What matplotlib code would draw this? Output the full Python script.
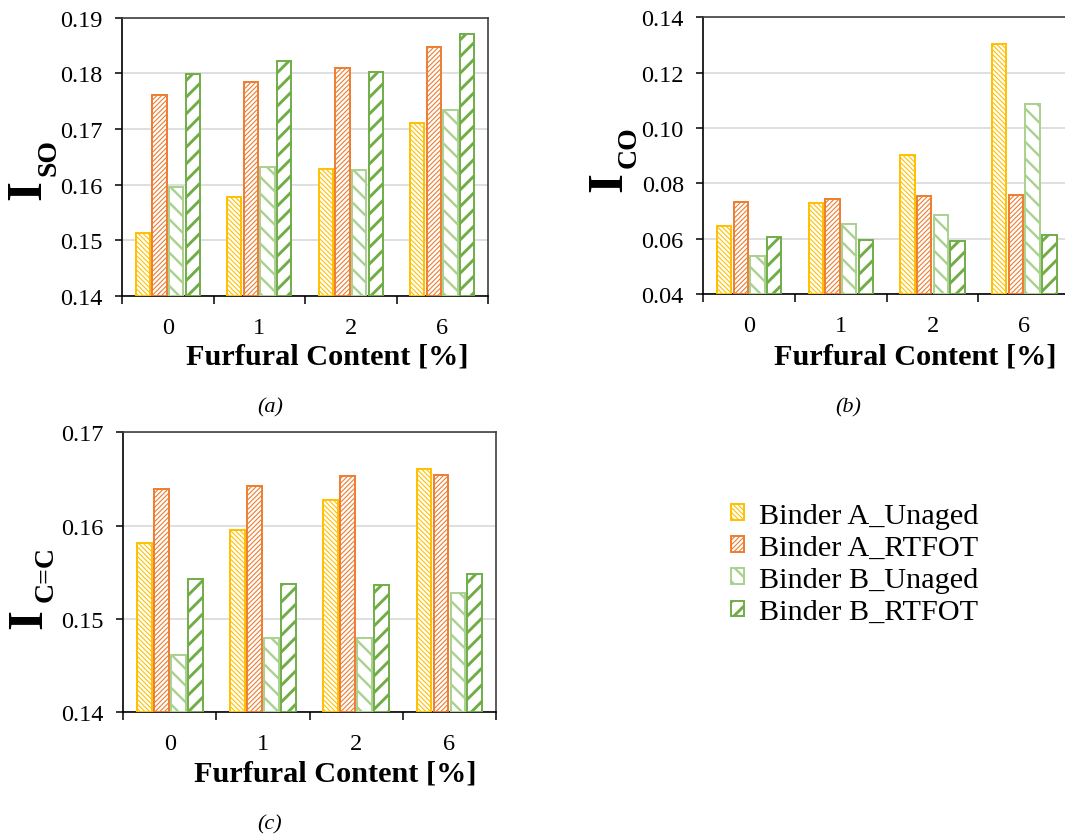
import matplotlib
matplotlib.use("Agg")
import matplotlib as mpl
import matplotlib.pyplot as plt
import numpy as np

plt.rcParams['font.family'] = ['Liberation Serif', 'DejaVu Serif']

categories = ['0', '1', '2', '6']
series_names = ['Binder A_Unaged', 'Binder A_RTFOT', 'Binder B_Unaged', 'Binder B_RTFOT']

iso_a_unaged = [0.1514, 0.1577, 0.1628, 0.1711]
iso_a_rtfot = [0.1762, 0.1784, 0.1809, 0.1847]
iso_b_unaged = [0.1595, 0.1632, 0.1626, 0.1735]
iso_b_rtfot = [0.1799, 0.1822, 0.1803, 0.1871]

ico_a_unaged = [0.0644, 0.0729, 0.0902, 0.1303]
ico_a_rtfot = [0.0731, 0.0743, 0.0755, 0.0758]
ico_b_unaged = [0.0537, 0.0654, 0.0685, 0.1088]
ico_b_rtfot = [0.0607, 0.0596, 0.0591, 0.0615]

icc_a_unaged = [0.1581, 0.1595, 0.1628, 0.1661]
icc_a_rtfot = [0.1639, 0.1643, 0.1653, 0.1654]
icc_b_unaged = [0.1461, 0.1480, 0.1480, 0.1528]
icc_b_rtfot = [0.1543, 0.1538, 0.1536, 0.1548]

colors = ['#FFC000', '#ED7D31', '#A9D18E', '#70AD47']
hatches = ['\\' * 7, '/' * 7, '\\\\', '//']
hatch_lws = [0.8, 0.8, 1.7, 2.1]

W, H = 1065, 837
fig = plt.figure(figsize=(W / 100, H / 100), dpi=100)


def px_axes(l, t, r, b):
    return fig.add_axes([l / W, 1 - b / H, (r - l) / W, (b - t) / H])


def with_hatch_lw(artist, lw):
    if hasattr(artist, 'set_hatch_linewidth'):
        try:
            artist.set_hatch_linewidth(lw)
        except Exception:
            pass
    orig = artist.draw

    def draw(renderer, _orig=orig, _lw=lw):
        with mpl.rc_context({'hatch.linewidth': _lw}):
            _orig(renderer)
    artist.draw = draw


def draw_panel(ax, data, ylim, yticks, fmt):
    x = np.arange(len(categories))
    step = 0.182
    width = 0.158
    handles = []
    for i, vals in enumerate(data):
        bars = ax.bar(x + (i - 1.5) * step, np.array(vals) - ylim[0], width,
                      bottom=ylim[0], facecolor='white', edgecolor=colors[i],
                      hatch=hatches[i], linewidth=1.4, label=series_names[i], zorder=3)
        for p in bars:
            with_hatch_lw(p, hatch_lws[i])
        handles.append(bars)
    ax.set_ylim(*ylim)
    ax.set_xlim(-0.5, len(categories) - 0.5)
    ax.set_yticks(yticks)
    ax.set_yticklabels([fmt.format(v) for v in yticks])
    ax.set_xticks(np.arange(len(categories) + 1) - 0.5)
    ax.set_xticklabels([''] * (len(categories) + 1))
    ax.set_xticks(x, minor=True)
    ax.set_xticklabels(categories, minor=True)
    ax.tick_params(axis='x', which='major', length=6, width=1.1, direction='out')
    ax.tick_params(axis='x', which='minor', length=0, pad=15, labelsize=17.5)
    ax.tick_params(axis='y', length=5, width=1.1, direction='out', pad=9, labelsize=17.5)
    ax.grid(axis='y', color='#D9D9D9', linewidth=1.2, zorder=0)
    ax.set_axisbelow(True)
    for s in ['left', 'bottom']:
        ax.spines[s].set_color('black')
        ax.spines[s].set_linewidth(1.2)
    for s in ['top', 'right']:
        ax.spines[s].set_color('#404040')
        ax.spines[s].set_linewidth(1.2)
    return handles


ax_a = px_axes(122, 18.7, 488, 297)
h = draw_panel(ax_a, [iso_a_unaged, iso_a_rtfot, iso_b_unaged, iso_b_rtfot],
               (0.14, 0.19), np.round(np.arange(0.14, 0.1901, 0.01), 2), '{:.2f}')

ax_b = px_axes(703.3, 18.3, 703.3 + 4 * 91.7, 295)
draw_panel(ax_b, [ico_a_unaged, ico_a_rtfot, ico_b_unaged, ico_b_rtfot],
           (0.04, 0.14), np.round(np.arange(0.04, 0.1401, 0.02), 2), '{:.2f}')

ax_c = px_axes(123.3, 433.3, 496, 713.3)
draw_panel(ax_c, [icc_a_unaged, icc_a_rtfot, icc_b_unaged, icc_b_rtfot],
           (0.14, 0.17), np.round(np.arange(0.14, 0.1701, 0.01), 2), '{:.2f}')


def ftext(x, y, s, **kw):
    return fig.text(x / W, 1 - y / H, s, **kw)


# x labels
for (cx, by) in [(327, 365), (915, 365), (335, 782)]:
    ftext(cx, by, 'Furfural Content [%]', ha='center', va='baseline',
          fontsize=21.8, fontweight='bold')

# captions
for (cx, cy, s) in [(270, 408, '(a)'), (848, 408, '(b)'), (270, 825, '(c)')]:
    ftext(cx, cy, s, ha='center', va='center', fontsize=16, style='italic')

# y labels
ylabels = [((28, 190), (49, 157), 'SO'),
           ((609, 182), (629, 147), 'CO'),
           ((29, 619), (46, 574), 'C=C')]
for (ix, iy), (sx, sy), sub in ylabels:
    ftext(ix, iy, 'I', rotation=90, ha='center', va='center', fontsize=37, fontweight='bold')
    ftext(sx, sy, sub, rotation=90, ha='center', va='center', fontsize=20, fontweight='bold')

leg = fig.legend(handles=h, labels=series_names, loc='upper left',
                 bbox_to_anchor=(731 / W, 1 - 504 / H), frameon=False,
                 fontsize=21.8, handlelength=0.42, handleheight=0.42,
                 handletextpad=0.5, labelspacing=0.2, borderpad=0, borderaxespad=0)
for lh, lw in zip(leg.legend_handles, hatch_lws):
    with_hatch_lw(lh, lw)

fig.savefig('out.png', dpi=100)
